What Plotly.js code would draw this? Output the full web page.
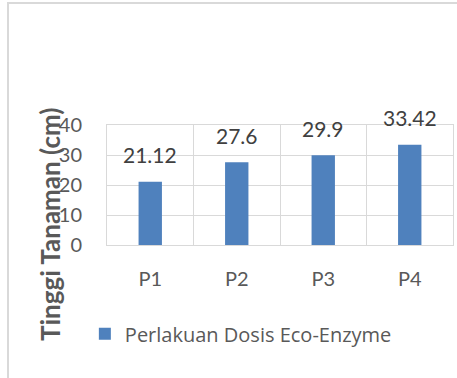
<!DOCTYPE html>
<html>
<head>
<meta charset="utf-8">
<script src="https://cdn.plot.ly/plotly-3.0.1.min.js"></script>
<style>
html,body{margin:0;padding:0;background:#fff;}
#wrap{position:relative;width:457px;height:378px;overflow:hidden;}
#chart{position:absolute;left:0;top:0;width:457px;height:378px;}
#frame{position:absolute;left:7px;top:2px;right:-5px;bottom:-5px;border-left:2px solid #d9d9d9;border-top:2px solid #d9d9d9;pointer-events:none;}
</style>
</head>
<body>
<div id="wrap"><div id="chart"></div><div id="frame"></div></div>
<script>
const categories = ["P1", "P2", "P3", "P4"];
const values = [21.12, 27.6, 29.9, 33.42];
const seriesName = "Perlakuan Dosis Eco-Enzyme";
const yTitle = "Tinggi Tanaman (cm)";
const yTicks = [0, 10, 20, 30, 40];

const FONT = "Lato, 'Open Sans', sans-serif";
const LFONT = "'Open Sans', Lato, sans-serif";

const trace = {
  type: "bar",
  x: categories,
  y: values,
  name: seriesName,
  width: 0.27,
  marker: {color: "#4f81bd"},
  hoverinfo: "none"
};

const labelAnns = categories.map((c, i) => ({
  x: c, y: values[i], xref: "x", yref: "y",
  text: String(values[i]), showarrow: false,
  yanchor: "middle", yshift: 27,
  font: {family: FONT, size: 21, color: "#404040"}
}));

const layout = {
  width: 457, height: 378,
  margin: {l: 107, r: 4, t: 125, b: 133, pad: 0},
  paper_bgcolor: "rgba(0,0,0,0)",
  plot_bgcolor: "#fff",
  font: {family: FONT, color: "#595959", size: 20},
  showlegend: true,
  legend: {
    orientation: "h", x: -0.064, xanchor: "left", y: -0.74, yanchor: "middle",
    font: {family: LFONT, size: 20, color: "#595959"},
    bgcolor: "rgba(0,0,0,0)"
  },
  xaxis: {
    type: "category",
    tickson: "boundaries",
    showgrid: true, gridcolor: "#d9d9d9", gridwidth: 1,
    showline: true, linecolor: "#d9d9d9", linewidth: 1, mirror: true,
    ticks: "", ticklabelstandoff: 16,
    tickfont: {family: FONT, size: 20, color: "#595959"},
    fixedrange: true
  },
  yaxis: {
    range: [0, 40],
    tickvals: yTicks,
    showgrid: true, gridcolor: "#d9d9d9", gridwidth: 1,
    zeroline: false,
    showline: true, linecolor: "#d9d9d9", linewidth: 1, mirror: true,
    ticks: "", ticklabelstandoff: 20,
    tickfont: {family: FONT, size: 20, color: "#595959"},
    fixedrange: true
  },
  annotations: labelAnns.concat([{
    xref: "paper", yref: "paper",
    x: (50 - 107) / 346, y: (245 - 225) / 120,
    xanchor: "center", yanchor: "middle",
    text: "<b>" + yTitle + "</b>", textangle: -90, showarrow: false,
    font: {family: FONT, size: 26, color: "#595959"}
  }])
};

Plotly.newPlot("chart", [trace], layout, {displayModeBar: false, staticPlot: true});
</script>
</body>
</html>
